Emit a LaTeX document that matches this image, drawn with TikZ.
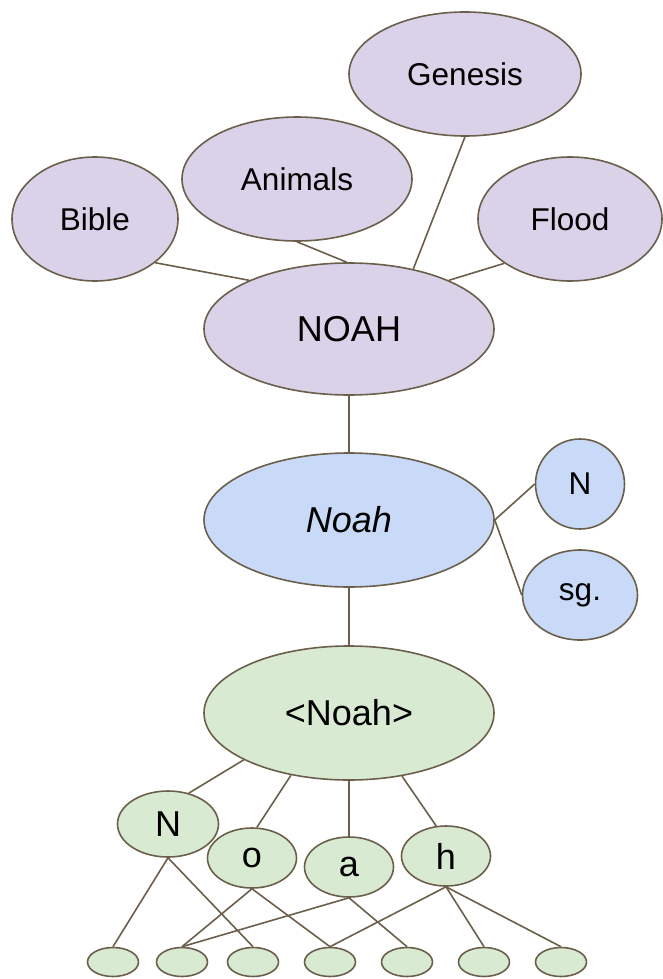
\documentclass[tikz,border=0pt]{standalone}
\usepackage{fontspec}
\setmainfont{Liberation Sans}
\usetikzlibrary{shapes.geometric}
\definecolor{edgebrown}{RGB}{107,95,75}
\definecolor{lilac}{HTML}{D9D2E9}
\definecolor{paleblue}{HTML}{C9DAF8}
\definecolor{palegreen}{HTML}{D9EAD3}

\begin{document}
\begin{tikzpicture}[x=1pt,y=-1pt,
  blob/.style={ellipse,draw=edgebrown,line width=1.6pt,inner sep=0pt},
  link/.style={edgebrown,line width=1.6pt},
  bigtext/.style={font=\fontsize{36}{40}\selectfont},
  midtext/.style={font=\fontsize{31.5}{36}\selectfont}]
\useasboundingbox (0,0) rectangle (663,979);

% concept level
\node[blob,fill=lilac,midtext,minimum width=232,minimum height=124] (genesis) at (465,74) {Genesis};
\node[blob,fill=lilac,midtext,minimum width=230,minimum height=124] (animals) at (297,179) {Animals};
\node[blob,fill=lilac,midtext,minimum width=166,minimum height=124] (bible) at (95,219) {Bible};
\node[blob,fill=lilac,midtext,minimum width=184,minimum height=124] (flood) at (570,219) {Flood};
\node[blob,fill=lilac,bigtext,minimum width=290,minimum height=132] (concept) at (349,329) {NOAH};

\draw[link] (bible.-36) -- (concept.154);
\draw[link] (animals.south) -- (concept.92);
\draw[link] (genesis.south) -- (concept.43);
\draw[link] (flood.214) -- (concept.26);

% word level
\node[blob,fill=paleblue,bigtext,minimum width=290,minimum height=134] (word) at (349,520) {\itshape Noah};
\node[blob,fill=paleblue,midtext,minimum width=89,minimum height=90] (pos) at (580,484) {N};
\node[blob,fill=paleblue,midtext,minimum width=115,minimum height=90] (num) at (580,595) {sg.};

\draw[link] (concept.south) -- (word.north);
\draw[link] (word.east) -- (pos.west);
\draw[link] (word.east) -- (num.west);

% spelling level
\node[blob,fill=palegreen,bigtext,minimum width=290,minimum height=134] (spell) at (349,713) {<Noah>};
\node[blob,fill=palegreen,bigtext,minimum width=101,minimum height=66] (gN) at (168,824) {N};
\node[blob,fill=palegreen,bigtext,minimum width=89,minimum height=60] (go) at (252,858) {o};
\node[blob,fill=palegreen,bigtext,minimum width=89,minimum height=60] (ga) at (349,867) {a};
\node[blob,fill=palegreen,bigtext,minimum width=89,minimum height=60] (gh) at (446,856) {h};

\draw[link] (concept.south) -- (word.north);
\draw[link] (word.south) -- (spell.north);
\draw[link] (spell.204) -- (gN.56);
\draw[link] (spell.227) -- (go.81);
\draw[link] (spell.south) -- (ga.north);
\draw[link] (spell.-50) -- (gh.108);

% feature row
\foreach \x [count=\i] in {113,182,253,330,407,484,561}
  \node[blob,fill=palegreen,minimum width=51,minimum height=29] (f\i) at (\x,962) {};

\foreach \g/\f in {gN/f1,gN/f3,go/f2,go/f4,ga/f2,ga/f5,gh/f4,gh/f6,gh/f7}
  \draw[link] (\g.south) -- (\f.north);

\end{tikzpicture}
\end{document}
